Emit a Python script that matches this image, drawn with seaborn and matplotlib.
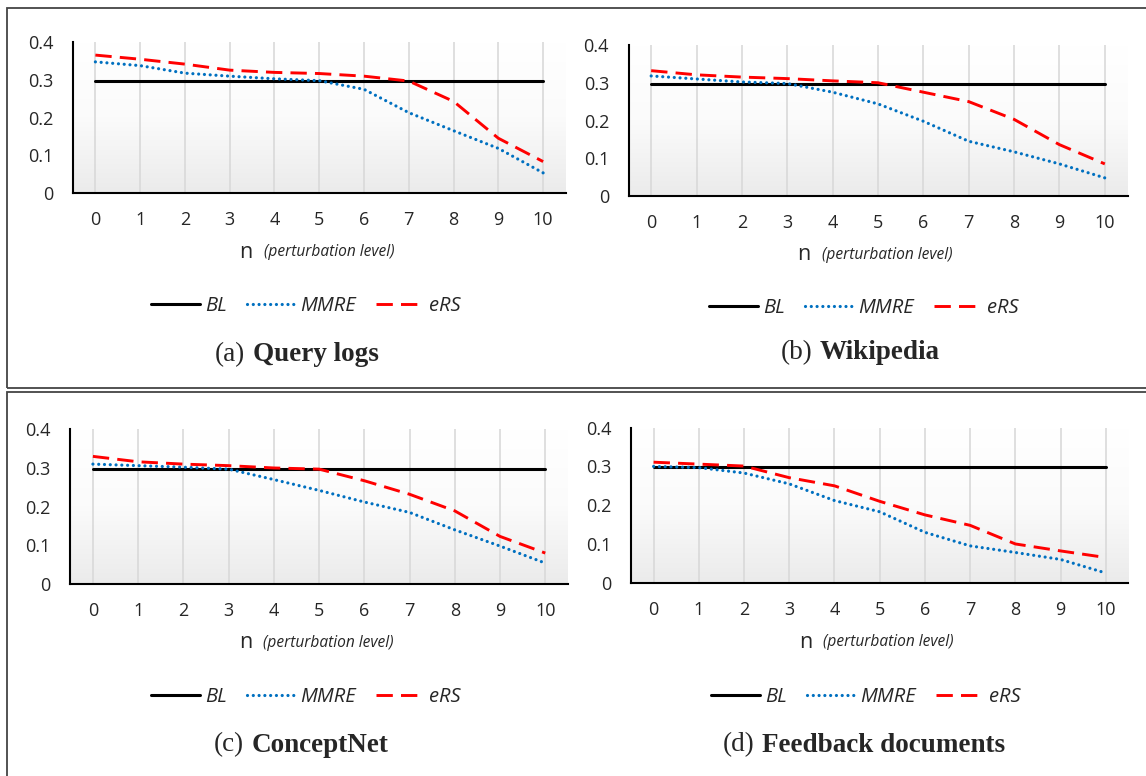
import numpy as np
import pandas as pd
import seaborn as sns
import matplotlib.pyplot as plt
from matplotlib.colors import LinearSegmentedColormap, to_hex
from matplotlib.lines import Line2D
from matplotlib.patches import Rectangle

# perturbation levels (x axis)
levels = list(range(11))
ytick_vals = [0, 0.1, 0.2, 0.3, 0.4]
ytick_labels = ["0", "0.1", "0.2", "0.3", "0.4"]
series_names = ["BL", "MMRE", "eRS"]

bl = [0.298] * 11

mmre_query = [0.348, 0.338, 0.318, 0.310, 0.303, 0.298, 0.275, 0.213, 0.165, 0.118, 0.053]
ers_query = [0.366, 0.355, 0.342, 0.326, 0.320, 0.317, 0.310, 0.297, 0.243, 0.145, 0.083]

mmre_wiki = [0.318, 0.310, 0.302, 0.298, 0.275, 0.244, 0.198, 0.145, 0.117, 0.085, 0.048]
ers_wiki = [0.332, 0.321, 0.315, 0.311, 0.305, 0.300, 0.275, 0.250, 0.203, 0.136, 0.085]

mmre_concept = [0.310, 0.306, 0.302, 0.297, 0.270, 0.242, 0.212, 0.185, 0.140, 0.098, 0.054]
ers_concept = [0.330, 0.316, 0.310, 0.306, 0.300, 0.297, 0.267, 0.232, 0.189, 0.123, 0.080]

mmre_feedback = [0.300, 0.297, 0.283, 0.255, 0.212, 0.183, 0.130, 0.095, 0.078, 0.060, 0.025]
ers_feedback = [0.311, 0.306, 0.301, 0.271, 0.250, 0.210, 0.175, 0.148, 0.100, 0.082, 0.065]

panel_tags = ["(a)", "(b)", "(c)", "(d)"]
panel_names = ["Query logs", "Wikipedia", "ConceptNet", "Feedback documents"]
panel_mmre = [mmre_query, mmre_wiki, mmre_concept, mmre_feedback]
panel_ers = [ers_query, ers_wiki, ers_concept, ers_feedback]

# layout in pixels
W, H = 1146, 776
axes_px = [(73, 42.3, 492.5, 150.5), (628.5, 45, 499, 151),
           (70.3, 429.3, 497.6, 154.7), (631, 427.7, 497.4, 155)]
xlabel_y = [252, 255, 643, 642]
legend_px = [(306, 306), (864, 308), (306, 697), (866, 697)]
caption_px = [(249, 355), (816, 353), (248, 745), (758, 745)]

colors = {"BL": "black", "MMRE": "#0070C0", "eRS": "#FF0000"}
dashes = {"BL": "", "MMRE": (0.01, 1.8), "eRS": (5.6, 2.8)}
widths = {"BL": 2.2, "MMRE": 2.3, "eRS": 2.1}

sns.set_style("white")
plt.rcParams["font.family"] = ["Open Sans", "DejaVu Sans"]

fig = plt.figure(figsize=(W / 100, H / 100), dpi=100)

# boxes around the two rows
for (x0, y0, x1, y1) in [(7.4, 8.3, 1152, 388), (7.4, 392, 1152, 782)]:
    fig.patches.append(Rectangle((x0 / W, 1 - y1 / H), (x1 - x0) / W, (y1 - y0) / H,
                                 transform=fig.transFigure, fill=False,
                                 edgecolor="#444444", lw=1.3))

bg = LinearSegmentedColormap.from_list("bg", ["#ffffff", "#fbfbfb", "#ebebeb"])

for i in range(4):
    x, y, w, h = axes_px[i]
    ax = fig.add_axes([x / W, 1 - (y + h) / H, w / W, h / H])

    df = pd.DataFrame({
        "n": levels * 3,
        "value": bl + panel_mmre[i] + panel_ers[i],
        "series": ["BL"] * 11 + ["MMRE"] * 11 + ["eRS"] * 11,
    })

    ax.imshow(np.linspace(0, 1, 100).reshape(-1, 1), cmap=bg, aspect="auto",
              extent=[-0.5, 10.5, 0, 0.4], origin="upper", zorder=0)

    sns.lineplot(data=df, x="n", y="value", hue="series", style="series",
                 palette=colors, dashes=dashes, legend=False, ax=ax, zorder=3)
    for line in ax.lines:
        c = to_hex(line.get_color())
        name = [k for k, v in colors.items() if to_hex(v) == c][0]
        line.set_linewidth(widths[name])
        if name == "MMRE":
            line.set_dash_capstyle("round")

    ax.set_xlim(-0.5, 10.5)
    ax.set_ylim(0, 0.4)
    ax.set_xticks(levels)
    ax.set_xticks(np.arange(-0.5, 11, 1), minor=True)
    ax.set_yticks(ytick_vals)
    ax.set_yticklabels(ytick_labels)
    ax.tick_params(axis="x", which="major", length=0, pad=13, labelsize=13)
    ax.tick_params(axis="x", which="minor", direction="in", length=5, width=1.3,
                   color="black")
    ax.tick_params(axis="y", direction="out", length=4, width=1.3, pad=10,
                   labelsize=13, color="black")
    ax.xaxis.grid(True, which="major", color="#d9d9d9", lw=1.2)
    ax.set_axisbelow(True)
    for s in ["top", "right"]:
        ax.spines[s].set_visible(False)
    for s in ["left", "bottom"]:
        ax.spines[s].set_color("black")
        ax.spines[s].set_linewidth(1.5)
    ax.set_xlabel("")
    ax.set_ylabel("")

    ly = 1 - xlabel_y[i] / H
    fig.text((x + 0.365 * w) / W, ly, "n", ha="right", va="center", fontsize=15.5)
    fig.text((x + 0.387 * w) / W, ly, "(perturbation level)", ha="left",
             va="center", fontsize=11.2, style="italic")

    handles = []
    for s in series_names:
        hl = Line2D([], [], color=colors[s], lw=widths[s])
        if dashes[s]:
            hl.set_dashes(dashes[s])
        if s == "MMRE":
            hl.set_dash_capstyle("round")
        handles.append(hl)
    gx, gy = legend_px[i]
    ax.legend(handles, series_names, loc="center", bbox_to_anchor=(gx / W, 1 - gy / H),
              bbox_transform=fig.transFigure, ncol=3, frameon=False,
              prop={"style": "italic", "size": 14.5},
              handlelength=2.4, columnspacing=1.0, handletextpad=0.25)

    cx, cy = caption_px[i]
    fig.text((cx - 4) / W, 1 - cy / H, panel_tags[i], ha="right", va="center",
             family="Liberation Serif", fontsize=19.5)
    fig.text((cx + 4) / W, 1 - cy / H, panel_names[i], ha="left", va="center",
             family="Liberation Serif", fontsize=19.5, weight="bold")

fig.savefig("out.png", dpi=100)
